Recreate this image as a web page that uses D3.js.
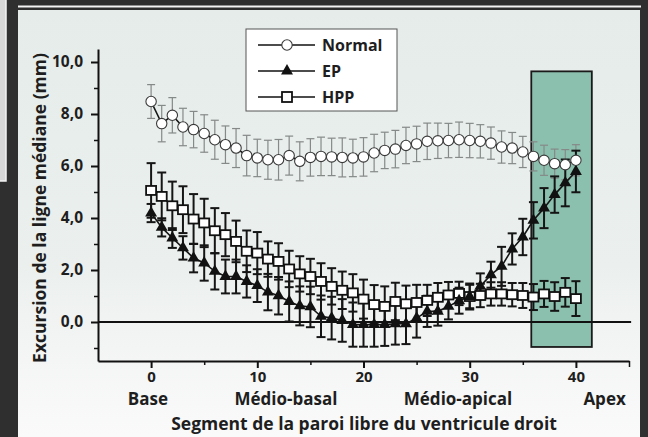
<!DOCTYPE html>
<html lang="fr">
<head>
    <meta charset="UTF-8">
    <title>Excursion de la ligne médiane</title>
    <script src="https://d3js.org/d3.v7.min.js"></script>
    <style>
        body { margin: 0; background: #2f2f2f; }
        svg { display: block; }
        text { font-family: "Open Sans", "DejaVu Sans", sans-serif; font-weight: 700; fill: #1e1e1e; }
        .axis path, .axis line { stroke: #111; stroke-width: 2px; }
        .axis text { font-size: 15.5px; }
        .xaxis text { font-size: 15px; }
        .minor path { display: none; }
        .minor line { stroke: #111; stroke-width: 1.5px; }
    </style>
</head>
<body>
<svg width="648" height="437"></svg>

<script>
    // segments 0..40
    var segments = d3.range(0, 41);

    // Normal (mm)
    var normalMean = [8.48, 7.63, 7.95, 7.5, 7.4, 7.25, 7.01, 6.82, 6.69, 6.4, 6.31, 6.24, 6.24, 6.4, 6.18,
        6.33, 6.37, 6.35, 6.33, 6.31, 6.35, 6.5, 6.6, 6.65, 6.79, 6.85, 6.95, 6.97, 6.98, 7.01,
        6.98, 6.95, 6.88, 6.73, 6.69, 6.54, 6.37, 6.22, 6.09, 6.05, 6.22];
    var normalErr = [0.65, 0.7, 0.68, 0.72, 0.7, 0.72, 0.75, 0.72, 0.75, 0.78, 0.72, 0.75, 0.78, 0.75, 0.75,
        0.72, 0.74, 0.72, 0.75, 0.72, 0.74, 0.72, 0.7, 0.72, 0.7, 0.68, 0.7, 0.68, 0.66, 0.68,
        0.66, 0.64, 0.62, 0.62, 0.6, 0.6, 0.56, 0.58, 0.56, 0.58, 0.6];

    // EP
    var epMean = [4.19, 3.64, 3.23, 2.85, 2.46, 2.27, 1.95, 1.75, 1.75, 1.56, 1.4, 1.15, 1.01, 0.79, 0.62,
        0.58, 0.22, 0.15, 0.06, -0.1, -0.1, -0.1, -0.1, -0.07, -0.07, 0.15, 0.41, 0.41, 0.6, 0.82,
        0.98, 1.37, 1.82, 2.14, 2.81, 3.27, 3.91, 4.38, 4.9, 5.35, 5.79];
    var epErr = [0.35, 0.35, 0.38, 0.45, 0.55, 0.68, 0.7, 0.65, 0.65, 0.62, 0.63, 0.7, 0.72, 0.77, 0.75,
        0.78, 0.8, 0.82, 0.82, 0.85, 0.85, 0.85, 0.82, 0.8, 0.78, 0.75, 0.6, 0.55, 0.5, 0.5,
        0.5, 0.5, 0.5, 0.75, 0.6, 0.7, 0.7, 0.77, 0.7, 0.9, 0.8];

    // HPP
    var hppMean = [5.06, 4.83, 4.47, 4.32, 3.96, 3.81, 3.51, 3.36, 3.1, 2.72, 2.65, 2.42, 2.33, 2.04, 1.85,
        1.75, 1.56, 1.37, 1.22, 1.12, 0.88, 0.67, 0.6, 0.79, 0.7, 0.75, 0.83, 0.95, 1.04, 1.1,
        0.98, 1.02, 1.08, 1.08, 1.05, 1.02, 0.96, 1.08, 0.98, 1.14, 0.9];
    var hppErr = [1.05, 0.92, 0.93, 0.9, 0.96, 0.93, 0.87, 0.83, 0.8, 0.8, 0.81, 0.68, 0.7, 0.7, 0.68,
        0.68, 0.7, 0.7, 0.72, 0.72, 0.75, 0.75, 0.77, 0.72, 0.7, 0.68, 0.6, 0.55, 0.5, 0.45,
        0.45, 0.45, 0.45, 0.45, 0.45, 0.48, 0.5, 0.5, 0.55, 0.55, 0.67];

    var seriesNames = ["Normal", "EP", "HPP"];
    var yTicks = [0, 2, 4, 6, 8, 10];
    var yMinor = [-1, 1, 3, 5, 7, 9];
    var xTicks = [0, 10, 20, 30, 40];
    var xMinor = [5, 15, 25, 35];
    var regionLabels = ["Base", "Médio-basal", "Médio-apical", "Apex"];
    var regionPos = [-0.3, 12.7, 28.9, 42.7];
    // highlighted apical zone
    var zoneX = [35.8, 41.5];
    var zoneY = [-0.96, 9.64];

    var margin = {top: 49, right: 19, bottom: 76, left: 98},
        width = 648 - margin.left - margin.right,
        height = 437 - margin.top - margin.bottom;

    var root = d3.select("svg");

    // slide background
    var grad = root.append("defs").append("linearGradient")
        .attr("id", "bg").attr("x1", 0).attr("y1", 0).attr("x2", 0).attr("y2", 1);
    grad.append("stop").attr("offset", "0%").attr("stop-color", "#e5ecea");
    grad.append("stop").attr("offset", "60%").attr("stop-color", "#ebf0ee");
    grad.append("stop").attr("offset", "76%").attr("stop-color", "#f2f4f3");
    grad.append("stop").attr("offset", "100%").attr("stop-color", "#fafafa");

    root.append("rect").attr("x", 0).attr("y", 0).attr("width", 648).attr("height", 437).attr("fill", "#2f2f2f");
    root.append("rect").attr("x", -1).attr("y", -1).attr("width", 7).attr("height", 182)
        .attr("fill", "#d6d6d6").attr("stroke", "#f2f2f2").attr("stroke-width", 1.5);
    root.append("rect").attr("x", 18).attr("y", 10).attr("width", 622).attr("height", 427).attr("fill", "url(#bg)");
    root.append("line").attr("x1", 18).attr("x2", 641).attr("y1", 6.5).attr("y2", 6.5)
        .attr("stroke", "#f4f4f4").attr("stroke-width", 2);

    var svg = root.append("g")
        .attr("transform", "translate(" + margin.left + "," + margin.top + ")");

    var x = d3.scaleLinear().domain([-5, 45]).range([0, width]);
    var y = d3.scaleLinear().domain([-1.5, 10.5]).range([height, 0]);

    var fmt = function(d) { return d3.format(".1f")(d).replace(".", ","); };

    // green zone
    svg.append("rect")
        .attr("x", x(zoneX[0])).attr("y", y(zoneY[1]))
        .attr("width", x(zoneX[1]) - x(zoneX[0]))
        .attr("height", y(zoneY[0]) - y(zoneY[1]))
        .attr("fill", "#8cc0ae").attr("stroke", "#1a1a1a").attr("stroke-width", 1.8);

    // zero line
    svg.append("line")
        .attr("x1", 0).attr("x2", x(45.2))
        .attr("y1", y(0)).attr("y2", y(0))
        .attr("stroke", "#111").attr("stroke-width", 2);

    // axes
    svg.append("g").attr("class", "axis")
        .call(d3.axisLeft(y).tickValues(yTicks).tickFormat(fmt).tickSize(7).tickPadding(8).tickSizeOuter(0));
    svg.append("g").attr("class", "axis minor")
        .call(d3.axisLeft(y).tickValues(yMinor).tickFormat("").tickSize(4));

    svg.append("g").attr("class", "axis xaxis")
        .attr("transform", "translate(0," + height + ")")
        .call(d3.axisBottom(x).tickValues(xTicks).tickSize(7).tickPadding(3).tickSizeOuter(0));
    svg.append("g").attr("class", "axis minor")
        .attr("transform", "translate(0," + height + ")")
        .call(d3.axisBottom(x).tickValues(xMinor).tickFormat("").tickSize(4));
    svg.append("g").attr("class", "axis minor")
        .attr("transform", "translate(0," + height + ")")
        .call(d3.axisBottom(x).tickValues([45]).tickFormat("").tickSize(6));

    // region labels under the numbers
    svg.selectAll(".region")
        .data(regionLabels)
        .enter().append("text")
        .attr("class", "region")
        .attr("x", function(d, i) { return x(regionPos[i]); })
        .attr("y", height + 43.5)
        .attr("text-anchor", "middle")
        .style("font-size", "17px")
        .text(function(d) { return d; });

    // axis titles
    svg.append("text")
        .attr("x", 266)
        .attr("y", 430 - margin.top)
        .attr("text-anchor", "middle")
        .style("font-size", "17.5px")
        .text("Segment de la paroi libre du ventricule droit");

    svg.append("text")
        .attr("transform", "rotate(-90)")
        .attr("x", -(208 - margin.top))
        .attr("y", 46 - margin.left)
        .attr("text-anchor", "middle")
        .style("font-size", "17.5px")
        .text("Excursion de la ligne médiane (mm)");

    // build series
    function rows(mean, err) {
        return segments.map(function(s, i) { return {x: s, y: mean[i], e: err[i]}; });
    }
    var normal = rows(normalMean, normalErr);
    var ep = rows(epMean, epErr);
    var hpp = rows(hppMean, hppErr);

    function errorBars(data, color, w, cap) {
        var g = svg.append("g").attr("stroke", color).attr("stroke-width", w).attr("fill", "none");
        var bars = g.selectAll("g").data(data).enter().append("g");
        bars.append("line")
            .attr("x1", function(d) { return x(d.x); }).attr("x2", function(d) { return x(d.x); })
            .attr("y1", function(d) { return y(d.y + d.e); }).attr("y2", function(d) { return y(d.y - d.e); });
        bars.append("line")
            .attr("x1", function(d) { return x(d.x) - cap; }).attr("x2", function(d) { return x(d.x) + cap; })
            .attr("y1", function(d) { return y(d.y + d.e); }).attr("y2", function(d) { return y(d.y + d.e); });
        bars.append("line")
            .attr("x1", function(d) { return x(d.x) - cap; }).attr("x2", function(d) { return x(d.x) + cap; })
            .attr("y1", function(d) { return y(d.y - d.e); }).attr("y2", function(d) { return y(d.y - d.e); });
    }

    errorBars(normal, "#858a88", 1.2, 4);
    errorBars(hpp, "#151515", 2, 4.5);
    errorBars(ep, "#151515", 2, 4.5);

    var line = d3.line().x(function(d) { return x(d.x); }).y(function(d) { return y(d.y); });
    [hpp, ep, normal].forEach(function(s) {
        svg.append("path").datum(s)
            .attr("d", line).attr("fill", "none")
            .attr("stroke", "#151515").attr("stroke-width", 1.6);
    });

    // markers
    svg.selectAll(".sq").data(hpp).enter().append("rect")
        .attr("class", "sq")
        .attr("x", function(d) { return x(d.x) - 5; })
        .attr("y", function(d) { return y(d.y) - 4.5; })
        .attr("width", 10).attr("height", 9)
        .attr("fill", "#fff").attr("stroke", "#111").attr("stroke-width", 1.8);

    var tri = d3.symbol().type(d3.symbolTriangle).size(62);
    svg.selectAll(".tri").data(ep).enter().append("path")
        .attr("class", "tri")
        .attr("d", tri)
        .attr("transform", function(d) { return "translate(" + x(d.x) + "," + y(d.y) + ")"; })
        .attr("fill", "#111");

    svg.selectAll(".dot").data(normal).enter().append("circle")
        .attr("class", "dot")
        .attr("cx", function(d) { return x(d.x); })
        .attr("cy", function(d) { return y(d.y); })
        .attr("r", 5.2)
        .attr("fill", "#fff").attr("stroke", "#3a3a3a").attr("stroke-width", 1.1);

    // legend
    var legend = root.append("g").attr("transform", "translate(246,29)");
    legend.append("rect")
        .attr("width", 151).attr("height", 82)
        .attr("fill", "#fff").attr("stroke", "#555").attr("stroke-width", 1);

    var items = legend.selectAll(".legend")
        .data(seriesNames)
        .enter().append("g")
        .attr("class", "legend")
        .attr("transform", function(d, i) { return "translate(0," + (16 + i * 26) + ")"; });

    items.append("line")
        .attr("x1", 12).attr("x2", 69)
        .attr("stroke", "#111").attr("stroke-width", 1.6);

    items.each(function(d) {
        var g = d3.select(this);
        if (d === "Normal") {
            g.append("circle").attr("cx", 41).attr("r", 5.2)
                .attr("fill", "#fff").attr("stroke", "#3a3a3a").attr("stroke-width", 1.1);
        } else if (d === "EP") {
            g.append("path").attr("d", tri).attr("transform", "translate(41,0)").attr("fill", "#111");
        } else {
            g.append("rect").attr("x", 36).attr("y", -5).attr("width", 10).attr("height", 10)
                .attr("fill", "#fff").attr("stroke", "#111").attr("stroke-width", 1.8);
        }
    });

    items.append("text")
        .attr("x", 76)
        .attr("dy", "0.36em")
        .style("font-size", "16px")
        .text(function(d) { return d; });
</script>
</body>
</html>
